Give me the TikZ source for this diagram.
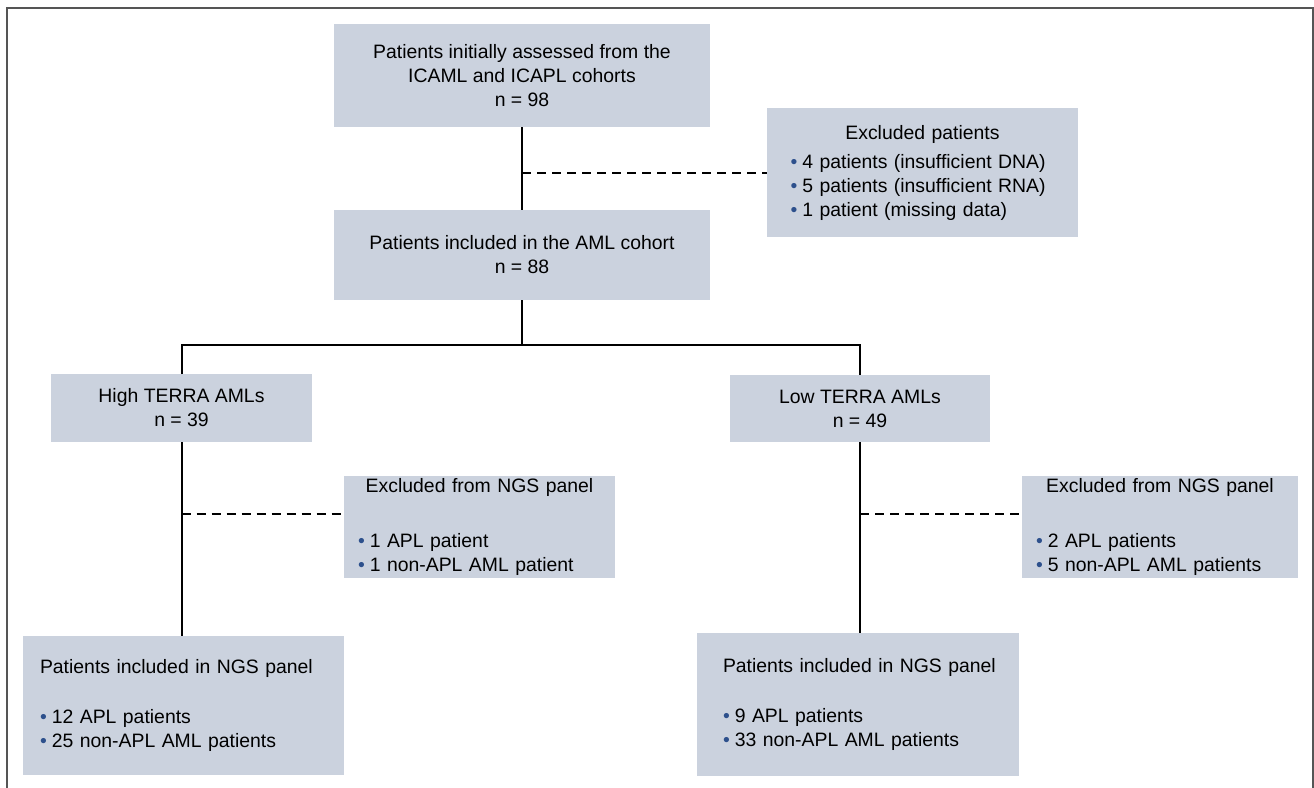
\documentclass[tikz,border=0pt]{standalone}
\usepackage{fontspec}
\setmainfont{Liberation Sans}
\usepackage{tikz}
\usetikzlibrary{positioning, calc}
\definecolor{boxgray}{RGB}{203,210,222}
\definecolor{bulletblue}{RGB}{45,80,140}
\definecolor{framegray}{RGB}{85,85,85}
\newcommand{\blt}{{\color{bulletblue}\textbullet}\hspace{2.5pt}}
\newcommand{\boxtitle}[1]{\makebox[\linewidth]{#1}}
\tikzset{
	every node/.append style={
		font=\fontsize{9.7}{12}\selectfont,
	},
	cohort/.append style={
		fill=boxgray,
		align=center,
		inner sep=0pt,
		outer sep=0pt,
	},
	listbox/.append style={
		cohort,
		align=left,
	},
	flow/.append style={
		line width=1pt,
	},
	excl/.append style={
		flow,
		dash pattern=on 4.5pt off 3pt,
	},
}
\begin{document}
\begin{tikzpicture}[x=0.5pt, y=-0.5pt]
	\useasboundingbox (0,0) rectangle (1314,788);
	% frame
	\draw[framegray, line width=1pt] (7,788) -- (7,7.5) -- (1313,7.5) -- (1313,788);

	\node[cohort, minimum width=188pt, minimum height=51.5pt](init) at (522,75.5)
		{Patients initially assessed from the\\ICAML and ICAPL cohorts\\n = 98};
	\node[listbox, minimum width=155.5pt, minimum height=64.5pt, text width=132pt](excl) at (922.5,172.5)
		{\boxtitle{Excluded patients}\\[2.5pt]\blt 4 patients (insufficient DNA)\\\blt 5 patients (insufficient RNA)\\\blt 1 patient (missing data)};
	\node[cohort, minimum width=188pt, minimum height=45pt](cohort) at (522,255)
		{Patients included in the AML cohort\\n = 88};

	\node[cohort, minimum width=130.5pt, minimum height=34pt](high) at (181.5,408)
		{High TERRA AMLs\\n = 39};
	\node[cohort, minimum width=130pt, minimum height=33.5pt](low) at (860,408.5)
		{Low TERRA AMLs\\n = 49};

	\node[listbox, minimum width=135.5pt, minimum height=51pt, text width=121.5pt](ngsexl) at (479.5,527)
		{\boxtitle{Excluded from NGS panel}\\[15.5pt]\blt 1 APL patient\\\blt 1 non-APL AML patient};
	\node[listbox, minimum width=138pt, minimum height=51pt, text width=124pt](ngsexr) at (1160,527)
		{\boxtitle{Excluded from NGS panel}\\[15.5pt]\blt 2 APL patients\\\blt 5 non-APL AML patients};

	\node[listbox, minimum width=160.5pt, minimum height=69.5pt, text width=143.5pt](ngsl) at (183.5,705.5)
		{\mbox{Patients included in NGS panel}\\[13pt]\blt 12 APL patients\\\blt 25 non-APL AML patients};
	\node[listbox, minimum width=161pt, minimum height=71.5pt, text width=135pt](ngsr) at (858,704.5)
		{\mbox{Patients included in NGS panel}\\[13pt]\blt 9 APL patients\\\blt 33 non-APL AML patients};

	\coordinate (split) at (522,345);

	\draw[flow] (init) -- (cohort);
	\draw[excl] (init.south |- excl.west) -- (excl.west);
	\draw[flow] (cohort) -- (split);
	\draw[flow] (high.north) |- (split) -| (low.north);

	\draw[flow] (high.south) -- (high.south |- ngsl.north);
	\draw[excl] (high.south |- ngsexl.west) ++(0,-13) -- ([yshift=6.5pt]ngsexl.west);
	\draw[flow] (low.south) -- (low.south |- ngsr.north);
	\draw[excl] (low.south |- ngsexr.west) ++(0,-13) -- ([yshift=6.5pt]ngsexr.west);
\end{tikzpicture}
\end{document}
